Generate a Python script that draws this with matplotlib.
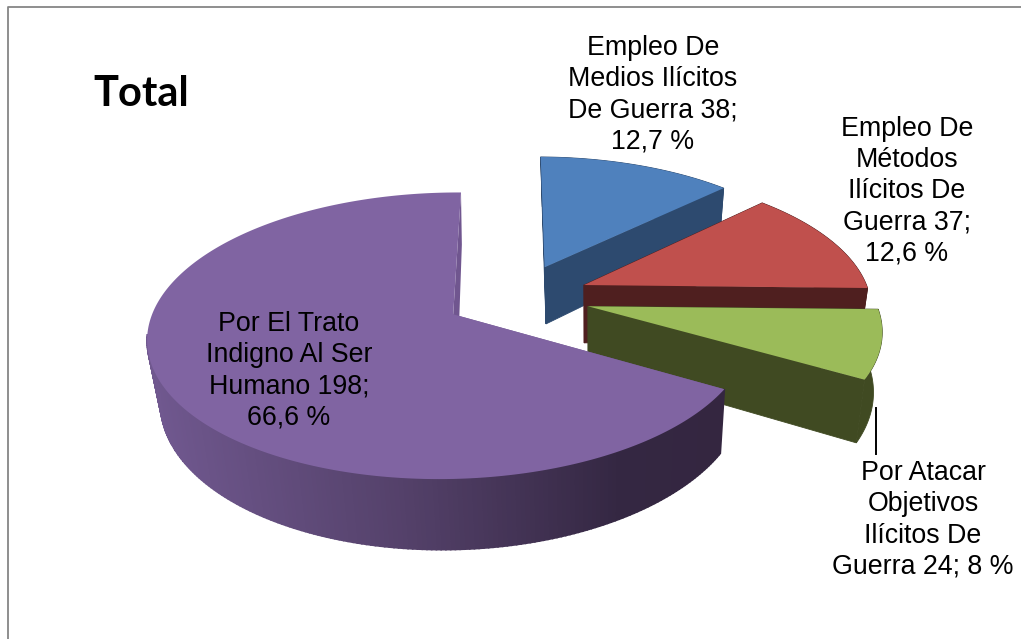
import numpy as np
import matplotlib
matplotlib.use("Agg")
import matplotlib.pyplot as plt
from matplotlib.patches import Polygon

names = ["Empleo De\nMedios Ilícitos\nDe Guerra 38;\n12,7 %",
         "Empleo De\nMétodos\nIlícitos De\nGuerra 37;\n12,6 %",
         "Por Atacar\nObjetivos\nIlícitos De\nGuerra 24; 8 %",
         "Por El Trato\nIndigno Al Ser\nHumano 198;\n66,6 %"]
percent = [12.7, 12.6, 8.0, 66.6]

top_colors = ["#4f81bd", "#c0504d", "#9bbb59", "#8064a2"]
side_colors = ["#2d4a6f", "#4f1f1f", "#404a22", "#70568f"]
label_pos = [(653, 95), (907, 191), (923, 520), (289, 370.5)]

explode = 0.25
center = (0.217, 0.13)


# the pie is a flat unit disc seen in perspective, mapped to pixels here
def project(u, v, bottom=False):
    w = 1 + 0.15 * v + 0.011 * u
    x = 453 + (298 * u + 9 * v) / w
    y = 315 - 140.3 * v / w
    if bottom:
        x = 590 + (x - 590) * 0.97
        y = y + 60 / w
    return x, y


fig = plt.figure(figsize=(10.21, 6.39), dpi=100)
ax = fig.add_axes([0, 0, 1, 1])
ax.set_xlim(0, 1021)
ax.set_ylim(639, 0)
ax.axis("off")

ax.plot([8, 8, 1021], [639, 6.5, 6.5], color="#868686", lw=1.3)

total = sum(percent)
start = 90.0
for i, p in enumerate(percent):
    end = start - p / total * 360
    mid = np.radians((start + end) / 2)
    ox = center[0] + explode * np.cos(mid)
    oy = center[1] + explode * np.sin(mid)

    t = np.radians(np.linspace(start, end, 300))
    u = ox + np.cos(t)
    v = oy + np.sin(t)
    xt, yt = project(u, v)
    xb, yb = project(u, v, bottom=True)
    x0, y0 = project(ox, oy)
    x0b, y0b = project(ox, oy, bottom=True)

    # the two cut faces
    if i == 3:
        ax.add_patch(Polygon([(x0, y0), (xt[-1], yt[-1]), (xb[-1] - 3, yb[-1]), (x0b, y0b)],
                             fc=side_colors[i], ec="none"))
        ax.add_patch(Polygon([(x0, y0), (xt[0], yt[0]), (xb[0] - 3, yb[0]), (x0b, y0b)],
                             fc=side_colors[i], ec="none"))
        # rim with gradient, only the front part shows
        for j in range(len(t) - 1):
            if np.sin(t[j]) > -0.15:
                continue
            xm = (xt[j] + xt[j + 1]) / 2
            c = (np.interp(xm, [150, 400, 620, 723], [112, 84, 52, 52]) / 255,
                 np.interp(xm, [150, 400, 620, 723], [88, 65, 39, 38]) / 255,
                 np.interp(xm, [150, 400, 620, 723], [143, 106, 66, 64]) / 255)
            ax.add_patch(Polygon([(xt[j], yt[j]), (xt[j + 1], yt[j + 1]),
                                  (xb[j + 1], yb[j + 1]), (xb[j], yb[j])],
                                 fc=c, ec=c, lw=1.2))
    else:
        ax.add_patch(Polygon([(x0, y0), (xt[0], yt[0]), (xb[0], yb[0]), (x0b, y0b)],
                             fc=side_colors[i], ec=side_colors[i], lw=0.6))
        ax.add_patch(Polygon([(x0, y0), (xt[-1], yt[-1]), (xb[-1], yb[-1]), (x0b, y0b)],
                             fc=side_colors[i], ec=side_colors[i], lw=0.6))
        rim = list(zip(xt, yt)) + list(zip(xb[::-1], yb[::-1]))
        ax.add_patch(Polygon(rim, fc=side_colors[i], ec=side_colors[i], lw=0.6))

    pts = [(x0, y0)] + list(zip(xt, yt))
    ax.add_patch(Polygon(pts, fc=top_colors[i], ec="none"))
    start = end

ax.plot([875.5, 875.5], [408, 454], color="black", lw=1.4)

for name, pos in zip(names, label_pos):
    ax.text(pos[0], pos[1], name, ha="center", va="center", fontsize=19.3,
            family="Liberation Sans", linespacing=1.26, color="black")

ax.text(93, 94, "Total", ha="left", va="center", fontsize=30,
        family="Lato", fontweight="bold", color="black")

fig.savefig("out.png", dpi=100)
